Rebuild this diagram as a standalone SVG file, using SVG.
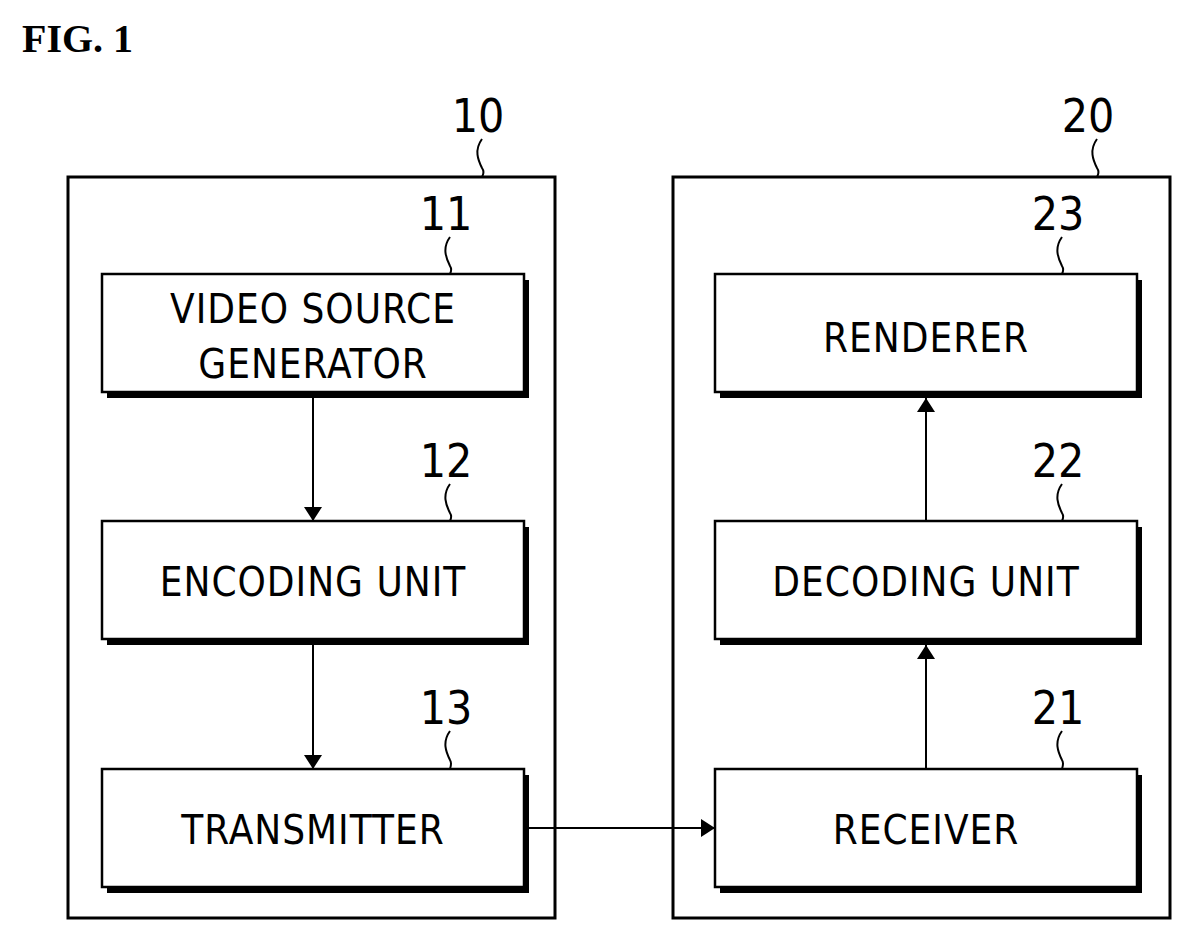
<svg xmlns="http://www.w3.org/2000/svg" width="1191" height="941" viewBox="0 0 1191 941">
<style>
.o{fill:#fff;stroke:#000;stroke-width:3}
.b{fill:#fff;stroke:#000;stroke-width:2.5}
.s{fill:#000}
.t{font-family:"DejaVu Sans Condensed","Liberation Sans",sans-serif;font-size:40px;text-anchor:middle;letter-spacing:1px}
.n{font-family:"DejaVu Sans Condensed","Liberation Sans",sans-serif;font-size:46px;text-anchor:middle}
.l{fill:none;stroke:#000;stroke-width:2}
</style>
<defs><marker id="a" markerWidth="14" markerHeight="18" refX="14" refY="9" orient="auto" markerUnits="userSpaceOnUse"><path d="M0,0 L14,9 L0,18 z"/></marker></defs>
<rect width="1191" height="941" fill="#fff"/>
<text x="22" y="52" font-family="Liberation Serif,serif" font-weight="bold" font-size="40">FIG. 1</text>
<g id="n10"><rect class="o" x="68" y="177" width="487" height="741"/><text class="n" x="478" y="132">10</text><path class="l" d="M482,139 C474,150 478,160 482,168 C485,172 483,175 482,177"/></g>
<g id="n20"><rect class="o" x="673" y="177" width="497" height="741"/><text class="n" x="1088" y="132">20</text><path class="l" d="M1097,139 C1089,150 1093,160 1097,168 C1100,172 1098,175 1097,177"/></g>
<g id="n11"><rect class="s" x="107" y="280" width="422" height="118"/><rect class="b" x="102" y="274" width="422" height="118"/><text class="t" x="313" y="323">VIDEO SOURCE</text><text class="t" x="313" y="378">GENERATOR</text><text class="n" x="446" y="230">11</text><path class="l" d="M450,237 C442,248 446,258 450,266 C452,269 451,272 450,274"/></g>
<g id="n12"><rect class="s" x="107" y="527" width="422" height="118"/><rect class="b" x="102" y="521" width="422" height="118"/><text class="t" x="313" y="596">ENCODING UNIT</text><text class="n" x="446" y="477">12</text><path class="l" d="M450,484 C442,495 446,505 450,513 C452,516 451,519 450,521"/></g>
<g id="n13"><rect class="s" x="107" y="775" width="422" height="118"/><rect class="b" x="102" y="769" width="422" height="118"/><text class="t" x="313" y="844">TRANSMITTER</text><text class="n" x="446" y="724">13</text><path class="l" d="M450,731 C442,742 446,752 450,760 C452,763 451,766 450,769"/></g>
<g id="n23"><rect class="s" x="720" y="280" width="422" height="118"/><rect class="b" x="715" y="274" width="422" height="118"/><text class="t" x="926" y="352">RENDERER</text><text class="n" x="1058" y="230">23</text><path class="l" d="M1062,237 C1054,248 1058,258 1062,266 C1064,269 1063,272 1062,274"/></g>
<g id="n22"><rect class="s" x="720" y="527" width="422" height="118"/><rect class="b" x="715" y="521" width="422" height="118"/><text class="t" x="926" y="596">DECODING UNIT</text><text class="n" x="1058" y="477">22</text><path class="l" d="M1062,484 C1054,495 1058,505 1062,513 C1064,516 1063,519 1062,521"/></g>
<g id="n21"><rect class="s" x="720" y="775" width="422" height="118"/><rect class="b" x="715" y="769" width="422" height="118"/><text class="t" x="926" y="844">RECEIVER</text><text class="n" x="1058" y="724">21</text><path class="l" d="M1062,731 C1054,742 1058,752 1062,760 C1064,763 1063,766 1062,769"/></g>
<g id="connectors">
<line class="l" x1="313" y1="398" x2="313" y2="521" marker-end="url(#a)"/>
<line class="l" x1="313" y1="645" x2="313" y2="769" marker-end="url(#a)"/>
<line class="l" x1="529" y1="828" x2="715" y2="828" marker-end="url(#a)"/>
<line class="l" x1="926" y1="769" x2="926" y2="645" marker-end="url(#a)"/>
<line class="l" x1="926" y1="521" x2="926" y2="398" marker-end="url(#a)"/>
</g>
</svg>
